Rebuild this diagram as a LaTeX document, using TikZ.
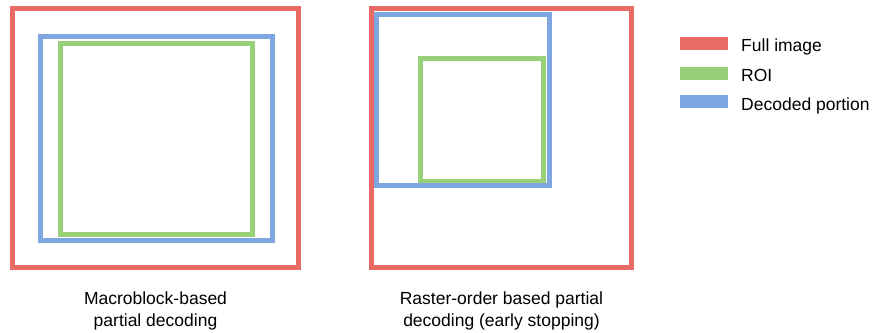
\documentclass[tikz,border=0pt]{standalone}
\usepackage{fontspec}
\setmainfont{Liberation Sans}
\definecolor{fullred}{HTML}{EA6B66}
\definecolor{roigreen}{HTML}{97D077}
\definecolor{decblue}{HTML}{7EA6E0}
\tikzset{
  frame/.style={line width=5pt},
  swatch/.style={inner sep=0pt, minimum width=48pt, minimum height=13.5pt},
  legtext/.style={anchor=base west, inner sep=0pt, font=\fontsize{17.5}{21}\selectfont},
  caption/.style={align=center, inner sep=0pt, font=\fontsize{17.5}{22}\selectfont}
}
\begin{document}
\begin{tikzpicture}[x=1pt,y=-1pt]
\useasboundingbox (0,0) rectangle (872,332);
% left panel
\draw[frame, fullred] (12.5,8.5) rectangle (298,267.5);
\draw[frame, decblue] (40,36) rectangle (272,240.5);
\draw[frame, roigreen] (60.5,43) rectangle (252,234);
% right panel
\draw[frame, fullred] (371,8.5) rectangle (631,267.5);
\draw[frame, roigreen] (420.5,58) rectangle (543,181);
\draw[frame, decblue] (376.5,14) rectangle (549,185.5);
% legend
\node[swatch, fill=fullred] (sw1) at (704,43.5) {};
\node[swatch, fill=roigreen] (sw2) at (704,73.5) {};
\node[swatch, fill=decblue] (sw3) at (704,101.5) {};
\node[legtext] (l1) at (741,51.5) {Full image};
\node[legtext] (l2) at (741,81.5) {ROI};
\node[legtext] (l3) at (741,110) {Decoded portion};
% captions
\node[caption] (c1) at (155.5,311) {Macroblock-based\\partial decoding};
\node[caption] (c2) at (501.5,311) {Raster-order based partial\\decoding (early stopping)};
\end{tikzpicture}
\end{document}
